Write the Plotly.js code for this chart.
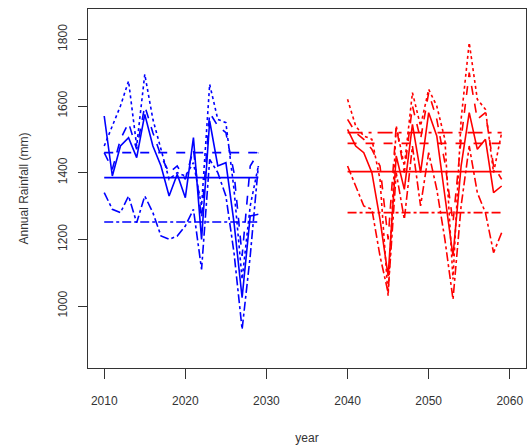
<!DOCTYPE html>
<html>
<head>
<meta charset="utf-8">
<script src="https://cdn.plot.ly/plotly-3.0.1.min.js"></script>
<style>html,body{margin:0;padding:0;background:#fff;}#chart{width:529px;height:447px;}</style>
</head>
<body>
<div id="chart"></div>
<script>
// ---- data ----
const yearsA = [2010,2011,2012,2013,2014,2015,2016,2017,2018,2019,2020,2021,2022,2023,2024,2025,2026,2027,2028,2029];
const yearsB = [2040,2041,2042,2043,2044,2045,2046,2047,2048,2049,2050,2051,2052,2053,2054,2055,2056,2057,2058,2059];

const blueSolid   = [1570,1390,1480,1505,1445,1575,1480,1420,1330,1395,1325,1505,1200,1555,1420,1430,1250,1025,1270,1275];
const blueDash    = [1460,1410,1500,1550,1470,1600,1520,1450,1400,1420,1380,1470,1260,1580,1540,1520,1400,1150,1420,1460];
const blueDot     = [1480,1540,1600,1675,1480,1695,1560,1470,1380,1400,1390,1430,1300,1665,1560,1550,1350,1080,1300,1420];
const blueDashDot = [1340,1290,1280,1330,1250,1330,1280,1210,1200,1210,1240,1290,1110,1440,1400,1330,1160,930,1150,1420];

const redSolid    = [1530,1480,1460,1400,1260,1090,1450,1350,1545,1400,1580,1510,1330,1150,1420,1580,1470,1500,1340,1360];
const redDash     = [1560,1520,1500,1470,1420,1200,1540,1400,1600,1500,1640,1560,1430,1250,1500,1700,1560,1580,1420,1380];
const redDot      = [1620,1540,1510,1500,1380,1030,1540,1420,1640,1540,1650,1600,1500,1080,1560,1790,1620,1590,1400,1520];
const redDashDot  = [1420,1360,1300,1290,1150,1040,1400,1260,1480,1300,1460,1350,1200,1020,1300,1480,1340,1280,1160,1220];

// period means (horizontal reference lines)
const blueMeans = {solid:1385, dash:1460, dashdot:1252};
const redMeans  = {solid:1403, dash:1488, longdashdot:1520, dashdot:1280};

const yTicks = [1000,1200,1400,1600,1800];
const xTicks = [2010,2020,2030,2040,2050,2060];

// ---- traces ----
const traces = [];
function series(x, y, color, dash){
  traces.push({x:x, y:y, type:'scatter', mode:'lines', line:{color:color, width:1.6, dash:dash}, hoverinfo:'skip'});
}
function meanLine(x, v, color, dash){
  traces.push({x:[x[0], x[x.length-1]], y:[v, v], type:'scatter', mode:'lines', line:{color:color, width:1.6, dash:dash}, hoverinfo:'skip'});
}
series(yearsA, blueSolid, '#0000ff', 'solid');
series(yearsA, blueDash, '#0000ff', 'dash');
series(yearsA, blueDot, '#0000ff', 'dot');
series(yearsA, blueDashDot, '#0000ff', 'dashdot');
Object.keys(blueMeans).forEach(k => meanLine(yearsA, blueMeans[k], '#0000ff', k));

series(yearsB, redSolid, '#ff0000', 'solid');
series(yearsB, redDash, '#ff0000', 'dash');
series(yearsB, redDot, '#ff0000', 'dot');
series(yearsB, redDashDot, '#ff0000', 'dashdot');
Object.keys(redMeans).forEach(k => meanLine(yearsB, redMeans[k], '#ff0000', k));

const font = {family:'Liberation Sans, Arial, sans-serif', size:12, color:'#333'};
const layout = {
  width:529, height:447,
  margin:{l:88, r:3, t:9, b:79},
  paper_bgcolor:'#fff', plot_bgcolor:'#fff',
  showlegend:false,
  font:font,
  xaxis:{
    range:[2008, 2062], tickvals:xTicks, ticktext:xTicks.map(String),
    ticks:'outside', ticklen:10, tickwidth:1, tickcolor:'#333', ticklabelstandoff:12,
    showgrid:false, zeroline:false, showline:true, mirror:true, linecolor:'#333', linewidth:1,
    tickfont:font,
    title:{text:'year', font:font, standoff:26}
  },
  yaxis:{
    range:[814, 1891], tickvals:yTicks, ticktext:yTicks.map(String),
    ticks:'outside', ticklen:9, tickwidth:1, tickcolor:'#333', tickangle:-90, ticklabelstandoff:6,
    showgrid:false, zeroline:false, showline:true, mirror:true, linecolor:'#333', linewidth:1,
    tickfont:font,
    title:{text:'Annual Rainfall (mm)', font:font, standoff:25}
  }
};
Plotly.newPlot('chart', traces, layout, {staticPlot:true, displayModeBar:false});
</script>
</body>
</html>
